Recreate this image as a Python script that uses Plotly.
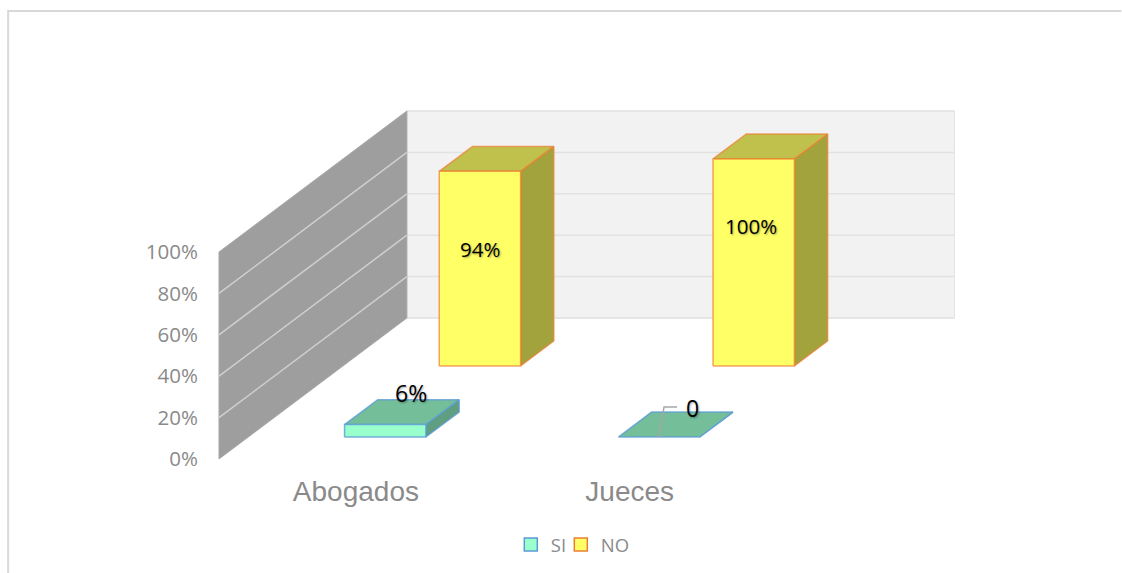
import plotly.graph_objects as go

# datos
categories = ['Abogados', 'Jueces']
si_values = [6, 0]
no_values = [94, 100]
si_labels = ['6%', '0']
no_labels = ['94%', '100%']
y_ticks = [0, 20, 40, 60, 80, 100]
y_tick_labels = ['0%', '20%', '40%', '60%', '80%', '100%']

# escala de los ejes: pixeles por unidad
PX_X = 274
PX_Y = 2.07
# vector de profundidad de la caja 3D (en unidades de los ejes)
DEPTH_X = 188 / PX_X
DEPTH_Y = 141 / PX_Y

BAR_WIDTH = 0.297
BAR_DEPTH = 0.177
SI_DEPTH = 0.156
NO_DEPTH = 0.66

GRID_TEXT = '#8A8A8A'


def project(x, depth, value):
    return x + depth * DEPTH_X, value + depth * DEPTH_Y


def polygon(fig, corners, fill, line_color, line_width=1.5):
    xs = [project(*c)[0] for c in corners]
    ys = [project(*c)[1] for c in corners]
    fig.add_trace(go.Scatter(
        x=xs + xs[:1],
        y=ys + ys[:1],
        mode='lines',
        fill='toself',
        fillcolor=fill,
        line=dict(color=line_color, width=line_width),
        showlegend=False,
        hoverinfo='skip'
    ))


def segment(fig, points, color, width):
    fig.add_trace(go.Scatter(
        x=[project(*p)[0] for p in points],
        y=[project(*p)[1] for p in points],
        mode='lines',
        line=dict(color=color, width=width),
        showlegend=False,
        hoverinfo='skip'
    ))


def bar_3d(fig, center, depth, value, colors):
    x0 = center - BAR_WIDTH / 2
    x1 = center + BAR_WIDTH / 2
    d0 = depth
    d1 = depth + BAR_DEPTH
    front, top, side, edge = colors
    polygon(fig, [(x1, d0, 0), (x1, d1, 0), (x1, d1, value), (x1, d0, value)], side, edge)
    polygon(fig, [(x0, d0, value), (x1, d0, value), (x1, d1, value), (x0, d1, value)], top, edge)
    if value > 0:
        polygon(fig, [(x0, d0, 0), (x1, d0, 0), (x1, d0, value), (x0, d0, value)], front, edge)


fig = go.Figure()

wall_end = len(categories)

# pared del fondo
polygon(fig, [(0, 1, 0), (wall_end, 1, 0), (wall_end, 1, 100), (0, 1, 100)], '#F2F2F2', '#E4E4E4', 1)
for t in y_ticks:
    segment(fig, [(0, 1, t), (wall_end, 1, t)], '#E2E2E2', 1.5)

# pared izquierda
polygon(fig, [(0, 0, 0), (0, 1, 0), (0, 1, 100), (0, 0, 100)], '#9E9E9E', '#A8A8A8', 1)
for t in y_ticks[1:-1]:
    segment(fig, [(0, 0, t), (0, 1, t)], '#CFCFCF', 1.5)

si_colors = ('#99FFCC', '#74BE9A', '#5F9E7F', 'rgba(91,155,213,0.8)')
no_colors = ('#FFFF66', '#C0C04D', '#A3A33D', 'rgba(237,125,49,0.7)')

for i, cat in enumerate(categories):
    center = i + 0.5
    bar_3d(fig, center, NO_DEPTH, no_values[i], no_colors)
    bar_3d(fig, center, SI_DEPTH, si_values[i], si_colors)

# linea guia de la etiqueta "0"
cx = 1.5
segment(fig, [
    (cx, SI_DEPTH, 0),
    (cx + 5 / PX_X, SI_DEPTH, 30 / PX_Y),
    (cx + 18 / PX_X, SI_DEPTH, 30 / PX_Y)
], '#A6A6A6', 1.5)

# etiquetas: desplazamiento en pixeles respecto a la cara frontal
si_shift = [(26, 44), (33, 29)]
no_shift = [(0, 117), (-3, 140)]
shadow = '1px 1px 2px rgba(0,0,0,0.35)'
for i, cat in enumerate(categories):
    center = i + 0.5
    for depth, labels, shift, size in ((SI_DEPTH, si_labels, si_shift, 23), (NO_DEPTH, no_labels, no_shift, 20.5)):
        px, py = project(center, depth, 0)
        fig.add_annotation(
            x=px, y=py,
            text=labels[i],
            showarrow=False,
            xshift=shift[i][0],
            yshift=shift[i][1],
            font=dict(family='Open Sans', size=size, color='black', shadow=shadow)
        )

# leyenda
legend_marker = dict(symbol='square', size=13)
fig.add_trace(go.Scatter(
    x=[None], y=[None], mode='markers', name='SI',
    marker=dict(color='#99FFCC', line=dict(color='#5B9BD5', width=1.5), **legend_marker)
))
fig.add_trace(go.Scatter(
    x=[None], y=[None], mode='markers', name='NO',
    marker=dict(color='#FFFF66', line=dict(color='#ED7D31', width=1.5), **legend_marker)
))
# entrada vacia: deja sitio para que "NO" no se recorte con entrywidth
fig.add_trace(go.Scatter(
    x=[None], y=[None], mode='markers', name=' ',
    marker=dict(color='rgba(0,0,0,0)', size=1)
))

PLOT_LEFT = 205
PLOT_TOP = 100
PLOT_BOTTOM = 470
PLOT_RIGHT = 972.5
X_LEFT = (PLOT_LEFT - 219) / PX_X
X_RIGHT = (PLOT_RIGHT - 219) / PX_X
Y_BOTTOM = (459 - PLOT_BOTTOM) / PX_Y
Y_TOP = (459 - PLOT_TOP) / PX_Y


def paper_x(px):
    return (px - PLOT_LEFT) / (PLOT_RIGHT - PLOT_LEFT)


def paper_y(py):
    return (PLOT_BOTTOM - py) / (PLOT_BOTTOM - PLOT_TOP)


# marco del area del grafico (solo arriba e izquierda son visibles)
frame = dict(color='#D9D9D9', width=2)
fig.add_shape(type='line', xref='paper', yref='paper', x0=paper_x(8), x1=paper_x(1122),
              y0=paper_y(11), y1=paper_y(11), line=frame)
fig.add_shape(type='line', xref='paper', yref='paper', x0=paper_x(8), x1=paper_x(8),
              y0=paper_y(10), y1=paper_y(573), line=frame)

fig.update_layout(
    width=1122,
    height=573,
    margin=dict(l=PLOT_LEFT, r=1122 - PLOT_RIGHT, t=PLOT_TOP, b=573 - PLOT_BOTTOM, autoexpand=False),
    paper_bgcolor='white',
    plot_bgcolor='white',
    showlegend=True,
    legend=dict(
        orientation='h',
        x=paper_x(511),
        y=paper_y(526),
        xanchor='left',
        yanchor='top',
        font=dict(family='Open Sans', size=18.5, color=GRID_TEXT),
        itemwidth=30,
        entrywidth=5,
        entrywidthmode='pixels',
        bgcolor='rgba(0,0,0,0)'
    ),
    xaxis=dict(
        range=[X_LEFT, X_RIGHT],
        tickvals=[i + 0.5 for i in range(len(categories))],
        ticktext=categories,
        tickfont=dict(family='Liberation Sans', size=28, color=GRID_TEXT),
        showgrid=False,
        zeroline=False,
        showline=False,
        ticks='',
        ticklabelstandoff=2
    ),
    yaxis=dict(
        range=[Y_BOTTOM, Y_TOP],
        tickvals=y_ticks,
        ticktext=y_tick_labels,
        tickfont=dict(family='Open Sans', size=20.5, color=GRID_TEXT),
        showgrid=False,
        zeroline=False,
        showline=False,
        ticks='outside',
        ticklen=2,
        tickcolor='rgba(0,0,0,0)'
    )
)

# sin margen de pagina, el grafico ocupa toda la ventana
fig.write_html("out.html", post_script="document.body.style.margin='0';",
               config=dict(displayModeBar=False))
